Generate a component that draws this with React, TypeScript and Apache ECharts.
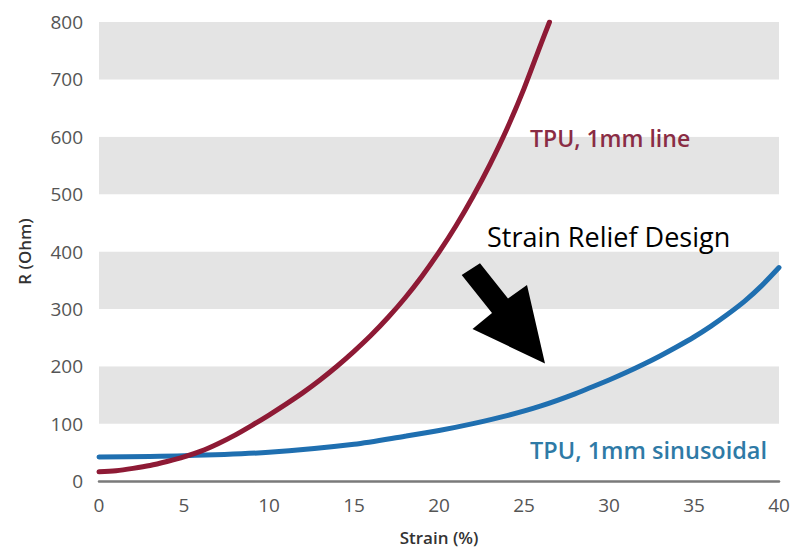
import React, { useEffect, useRef } from "react";
import * as echarts from "echarts";

const strainLine = [0, 1, 2, 3, 4, 5, 6, 7, 8, 9, 10, 11, 12, 13, 14, 15, 16, 17, 18, 19, 20, 21, 22, 23, 24, 25, 26, 26.5];
const rLine = [16, 18, 22, 27, 34, 42, 52, 65, 80, 97, 115, 134, 154, 176, 200, 226, 254, 285, 319, 357, 399, 445, 496, 552, 614, 684, 762, 800];
const strainSin = [0, 5, 10, 15, 18, 20, 22, 24, 26, 28, 30, 31, 32, 33, 34, 35, 36, 37, 38, 39, 40];
const rSin = [42, 44, 50, 64, 78, 88, 100, 114, 131, 152, 176, 189, 203, 218, 234, 251, 270, 291, 314, 341, 372];
const xTicks = [0, 5, 10, 15, 20, 25, 30, 35, 40];
const yTicks = [0, 100, 200, 300, 400, 500, 600, 700, 800];
const labelLine = "TPU, 1mm line";
const labelSin = "TPU, 1mm sinusoidal";
const annotation = "Strain Relief Design";

export default function App() {
  const ref = useRef<HTMLDivElement>(null);
  useEffect(() => {
    if (!ref.current) return;
    const chart = echarts.init(ref.current, null, { renderer: "svg" });
    const font = "Open Sans";
    chart.setOption({
      animation: false,
      backgroundColor: "#ffffff",
      grid: { left: 99, right: 23, top: 22, bottom: 69 },
      xAxis: {
        type: "value",
        min: xTicks[0],
        max: xTicks[xTicks.length - 1],
        interval: 5,
        name: "Strain (%)",
        nameLocation: "middle",
        nameGap: 48,
        nameTextStyle: { fontFamily: font, fontSize: 17, fontWeight: 600, color: "#333" },
        axisLine: { show: true, lineStyle: { color: "#7a7a7a", width: 2.5 } },
        axisTick: { show: false },
        axisLabel: { fontFamily: font, fontSize: 19, color: "#555", margin: 14 },
        splitLine: { show: false },
      },
      yAxis: {
        type: "value",
        min: yTicks[0],
        max: yTicks[yTicks.length - 1],
        interval: 100,
        name: "R (Ohm)",
        nameLocation: "middle",
        nameGap: 66,
        nameRotate: 90,
        nameTextStyle: { fontFamily: font, fontSize: 17, fontWeight: 600, color: "#333" },
        axisLine: { show: false },
        axisTick: { show: false },
        axisLabel: { fontFamily: font, fontSize: 19, color: "#555", margin: 16 },
        splitLine: { show: false },
        splitArea: { show: true, areaStyle: { color: ["#ffffff", "#e4e4e4"] } },
      },
      series: [
        {
          type: "line",
          name: labelLine,
          data: strainLine.map((x, i) => [x, rLine[i]]),
          smooth: 0.3,
          symbol: "none",
          lineStyle: { color: "#8e1a35", width: 5, cap: "round" },
          z: 3,
        },
        {
          type: "line",
          name: labelSin,
          data: strainSin.map((x, i) => [x, rSin[i]]),
          smooth: 0.3,
          symbol: "none",
          lineStyle: { color: "#1f6fb0", width: 5, cap: "round" },
          z: 2,
        },
      ],
      graphic: [
        {
          type: "text",
          x: 530,
          y: 138,
          z: 20,
          style: {
            text: labelLine,
            font: "600 23px 'Open Sans'",
            fill: "#8a2c44",
            verticalAlign: "middle",
            align: "left",
          },
        },
        {
          type: "text",
          x: 530,
          y: 450,
          z: 20,
          style: {
            text: labelSin,
            font: "600 23.5px 'Open Sans'",
            fill: "#2e7aa6",
            verticalAlign: "middle",
            align: "left",
          },
        },
        {
          type: "text",
          x: 487,
          y: 236,
          z: 20,
          style: {
            text: annotation,
            font: "27px 'Open Sans'",
            fill: "#000000",
            verticalAlign: "middle",
            align: "left",
          },
        },
        {
          type: "polygon",
          z: 20,
          shape: {
            points: [
              [461.7, 275],
              [480, 263.3],
              [508, 298.5],
              [527, 285],
              [545, 363.5],
              [472.5, 329],
              [492, 313],
            ],
          },
          style: { fill: "#000" },
        },
      ],
    });
    return () => chart.dispose();
  }, []);
  return <div ref={ref} style={{ width: 802, height: 551, position: "absolute", left: 0, top: 0 }} />;
}
